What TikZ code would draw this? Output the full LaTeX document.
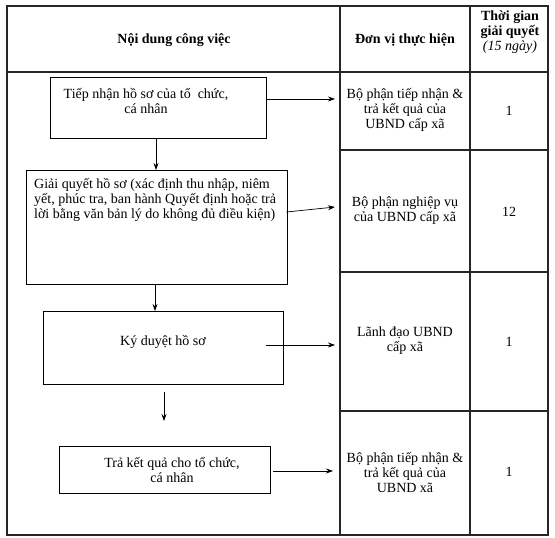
\documentclass[tikz,border=0pt]{standalone}
\usepackage{fontspec}
\setmainfont{Liberation Serif}
\usetikzlibrary{arrows.meta}
\begin{document}
\begin{tikzpicture}[x=1pt,y=-1pt,
  tbl/.style={line width=1.1pt, draw=black!85},
  box/.style={draw, line width=0.8pt, inner sep=0pt, anchor=north west},
  txt/.style={font=\fontsize{14}{15}\selectfont, align=center, inner sep=0pt},
  arr/.style={-{Stealth[length=7pt,width=5pt]}, line width=0.7pt}]
\useasboundingbox (0,0) rectangle (555,538);
% table
\draw[tbl] (7,6) rectangle (548,535);
\draw[tbl] (340,6) -- (340,535);
\draw[tbl] (470,6) -- (470,535);
\draw[tbl] (7,72) -- (548,72);
\draw[tbl] (340,150) -- (548,150);
\draw[tbl] (340,272) -- (548,272);
\draw[tbl] (340,411) -- (548,411);
% header
\node[txt, font=\fontsize{14}{15}\selectfont\bfseries] (h1) at (174,40) {Nội dung công việc};
\node[txt, font=\fontsize{14}{15}\selectfont\bfseries] (h2) at (405,40) {Đơn vị thực hiện};
\node[txt, font=\fontsize{14}{15}\selectfont] (h3) at (510,32) {\textbf{Thời gian}\\\textbf{giải quyết}\\\textit{(15 ngày)}};
% boxes
\node[box, minimum width=216pt, minimum height=61pt] (b1) at (50,77) {};
\node[box, minimum width=261pt, minimum height=114pt] (b2) at (25.5,170) {};
\node[box, minimum width=240pt, minimum height=73pt] (b3) at (43,311) {};
\node[box, minimum width=211.5pt, minimum height=47pt] (b4) at (58.5,446) {};
\node[txt] (t1) at (146,101) {Tiếp nhận hồ sơ của tổ\ \ chức,\\cá nhân};
\node[txt, align=left, anchor=west] (t2) at (34,200) {Giải quyết hồ sơ (xác định thu nhập, niêm\\yết, phúc tra, ban hành Quyết định hoặc trả\\lời bằng văn bản lý do không đủ điều kiện)};
\node[txt] (t3) at (163,342) {Ký duyệt hồ sơ};
\node[txt] (t4) at (172,470) {Trả kết quả cho tổ chức,\\cá nhân};
% column 2
\node[txt] (c1) at (405,110) {Bộ phận tiếp nhận \&\\trả kết quả của\\UBND cấp xã};
\node[txt] (c2) at (405,211) {Bộ phận nghiệp vụ\\của UBND cấp xã};
\node[txt] (c3) at (405,341) {Lãnh đạo UBND\\cấp xã};
\node[txt] (c4) at (405,472) {Bộ phận tiếp nhận \&\\trả kết quả của\\UBND xã};
% column 3
\node[txt] (n1) at (509,111) {1};
\node[txt] (n2) at (509,212) {12};
\node[txt] (n3) at (509,342) {1};
\node[txt] (n4) at (509,472) {1};
% arrow coordinates
\coordinate (e1) at (335,99);
\coordinate (s2) at (286.5,212);
\coordinate (e2) at (335,207);
\coordinate (s3) at (266,345);
\coordinate (e3) at (335,345);
\coordinate (s4) at (273,471);
\coordinate (e4) at (333,471);
\coordinate (d1) at (156,0);
\coordinate (d2) at (155,0);
\coordinate (s5) at (164,392);
\coordinate (e5) at (164,421);
% arrows
\draw[arr] (b1.east |- e1) -- (e1);
\draw[arr] (s2) -- (e2);
\draw[arr] (s3) -- (e3);
\draw[arr] (s4) -- (e4);
\draw[arr] (b1.south -| d1) -- (b2.north -| d1);
\draw[arr] (b2.south -| d2) -- (b3.north -| d2);
\draw[arr] (s5) -- (e5);
\end{tikzpicture}
\end{document}
